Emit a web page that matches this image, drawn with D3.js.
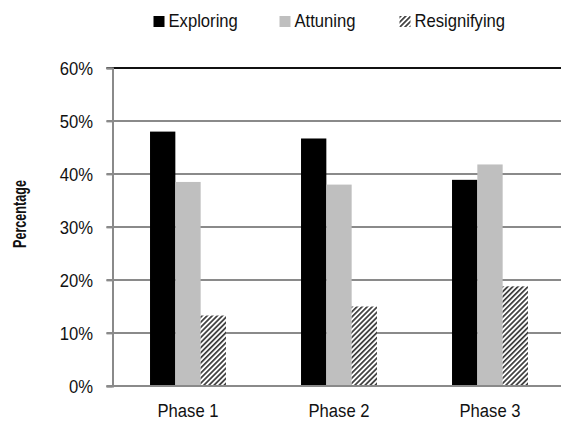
<!DOCTYPE html>
<html>
<head>
<meta charset="utf-8">
<script src="https://cdn.jsdelivr.net/npm/d3@7"></script>
<style>
  html, body { margin: 0; padding: 0; background: #fff; }
  svg { display: block; }
  text { font-family: "Liberation Sans", Arial, sans-serif; fill: #111; }
</style>
</head>
<body>
<svg id="chart" width="561" height="425"></svg>
<script>
// Share of coded segments per phase
const phases = ["Phase 1", "Phase 2", "Phase 3"];
const seriesNames = ["Exploring", "Attuning", "Resignifying"];
const exploring = [48.0, 46.7, 38.9];
const attuning = [38.5, 38.0, 41.8];
const resignifying = [13.3, 15.0, 18.8];
const yTicks = [0, 10, 20, 30, 40, 50, 60];

const seriesValues = [exploring, attuning, resignifying];

const svg = d3.select("#chart");
const plotLeft = 112.5, plotRight = 565.5, plotTop = 68, plotBottom = 386;
const squeeze = 0.9;      // condensed look for the labels
const fontSize = "18.5px";

const defs = svg.append("defs");
const hatch = defs.append("pattern")
  .attr("id", "hatch")
  .attr("patternUnits", "userSpaceOnUse")
  .attr("width", 3.6).attr("height", 3.6)
  .attr("patternTransform", "rotate(45)");
hatch.append("rect").attr("width", 3.6).attr("height", 3.6).attr("fill", "#fff");
hatch.append("rect").attr("width", 1.7).attr("height", 3.6).attr("fill", "#3a3a3a");

const fills = ["#000000", "#bfbfbf", "url(#hatch)"];

const y = d3.scaleLinear().domain([0, 60]).range([plotBottom, plotTop]);
const x0 = d3.scaleBand().domain(phases).range([plotLeft, plotRight])
  .paddingInner(0.497).paddingOuter(0.2485);
const x1 = d3.scaleBand().domain(seriesNames).range([0, x0.bandwidth()]);

// gridlines
svg.append("g").selectAll("line")
  .data(yTicks.filter(t => t > 0))
  .join("line")
  .attr("x1", plotLeft - 6).attr("x2", 561)
  .attr("y1", d => y(d)).attr("y2", d => y(d))
  .attr("stroke", d => d === 60 ? "#111" : "#8a8a8a")
  .attr("stroke-width", 1.8);

// y axis
const yAxis = d3.axisLeft(y).tickValues(yTicks).tickFormat(d => d + "%").tickSize(6).tickPadding(13);
const gy = svg.append("g").attr("transform", `translate(${plotLeft},0)`).call(yAxis);
gy.select(".domain").attr("stroke", "#8a8a8a").attr("stroke-width", 2);
gy.selectAll(".tick line").attr("stroke", "#8a8a8a").attr("stroke-width", 1.8);
gy.selectAll(".tick text")
  .style("font-size", fontSize).attr("fill", "#111").attr("dy", "0.36em")
  .attr("x", -19.5 / squeeze)
  .attr("transform", `scale(${squeeze},1)`);

// bars
const groups = svg.append("g").selectAll("g")
  .data(phases)
  .join("g")
  .attr("transform", d => `translate(${x0(d)},0)`);
groups.selectAll("rect")
  .data((p, i) => seriesNames.map((s, k) => ({ s, k, v: seriesValues[k][i] })))
  .join("rect")
  .attr("x", d => x1(d.s))
  .attr("width", x1.bandwidth())
  .attr("y", d => y(d.v))
  .attr("height", d => y(0) - y(d.v))
  .attr("fill", d => fills[d.k]);

// x axis
const xAxis = d3.axisBottom(x0).tickSize(0).tickPadding(18);
const gx = svg.append("g").attr("transform", `translate(0,${plotBottom})`).call(xAxis);
gx.select(".domain").remove();
gx.selectAll(".tick text")
  .style("font-size", fontSize).attr("fill", "#111")
  .attr("transform", `scale(${squeeze},1)`);
svg.append("line")
  .attr("x1", plotLeft - 6).attr("x2", 561)
  .attr("y1", plotBottom).attr("y2", plotBottom)
  .attr("stroke", "#8a8a8a").attr("stroke-width", 2);

// y title
svg.append("text")
  .attr("transform", "translate(26,214) rotate(-90) scale(0.7,1)")
  .attr("text-anchor", "middle")
  .style("font-size", "18px").style("font-weight", "bold")
  .text("Percentage");

// legend
const legendX = [153.5, 279.5, 399.5];
const leg = svg.append("g").selectAll("g")
  .data(seriesNames)
  .join("g")
  .attr("transform", (d, i) => `translate(${legendX[i]},16)`);
leg.append("rect").attr("width", 11).attr("height", 11).attr("fill", (d, i) => fills[i]);
leg.append("text")
  .attr("transform", `translate(15,10.5) scale(${squeeze},1)`)
  .style("font-size", fontSize).text(d => d);
</script>
</body>
</html>
